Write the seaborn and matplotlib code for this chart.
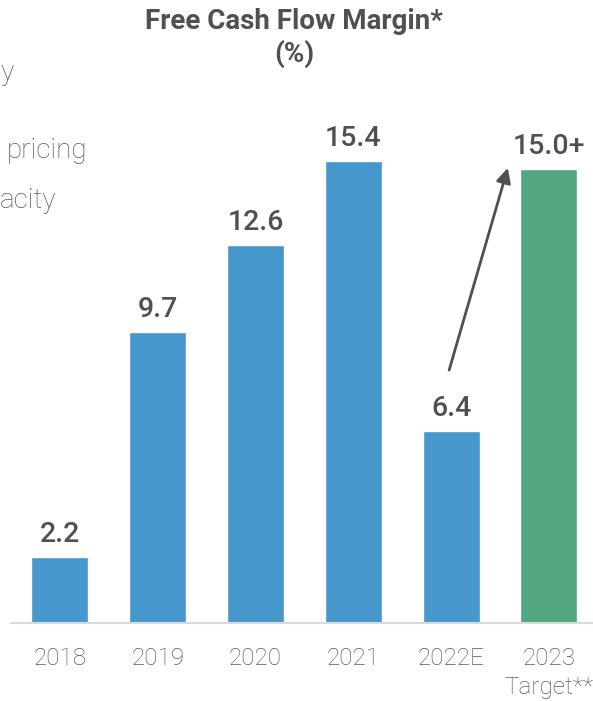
import matplotlib
matplotlib.use("Agg")
import matplotlib.pyplot as plt
import seaborn as sns
import pandas as pd

# ---- data ----
years = ["2018", "2019", "2020", "2021", "2022E", "2023\nTarget**"]
margins = [2.2, 9.7, 12.6, 15.4, 6.4, 15.15]
value_labels = ["2.2", "9.7", "12.6", "15.4", "6.4", "15.0+"]
bar_colors = ["#4697CB", "#4697CB", "#4697CB", "#4697CB", "#4697CB", "#52A682"]
title = "Free Cash Flow Margin*\n(%)"
side_fragments = ["y", "pricing", "acity"]

sns.set_theme(style="white")
plt.rcParams["font.family"] = ["Roboto", "DejaVu Sans"]

W, H = 593, 701
fig = plt.figure(figsize=(W / 100, H / 100), dpi=100)
ax = fig.add_axes([11 / W, 78 / H, 586.8 / W, 523 / H])

df = pd.DataFrame({"year": years, "margin": margins})
sns.barplot(data=df, x="year", y="margin", hue="year", palette=bar_colors,
            legend=False, width=0.583, ax=ax, saturation=1)

ax.set_xlim(-0.5, 5.5)
ax.set_ylim(0, 523 / 30.0)
ax.set_xlabel("")
ax.set_ylabel("")
ax.set_yticks([])
for s in ["left", "right", "top"]:
    ax.spines[s].set_visible(False)
ax.spines["bottom"].set_color("#D9D9D9")
ax.spines["bottom"].set_linewidth(1.5)
ax.tick_params(axis="x", length=0, pad=17, labelsize=17.5, labelcolor="#595959")
for lbl in ax.get_xticklabels():
    lbl.set_fontweight("light")
    lbl.set_linespacing(1.35)

for i, (v, t) in enumerate(zip(margins, value_labels)):
    ax.annotate(t, (i, v), xytext=(0, 10.5), textcoords="offset points",
                ha="center", va="baseline", fontsize=20.5, fontweight="medium",
                color="#505050")

# arrow from 2022E toward 2023 target
ax.annotate("", xy=(4.58, 15.17), xytext=(3.98, 8.43),
            arrowprops=dict(arrowstyle="-|>", color="#505050", lw=2,
                            mutation_scale=22, shrinkA=0, shrinkB=0))

fig.text(294 / W, 1 - 8 / H, title, ha="center", va="top", fontsize=20,
         fontweight="bold", color="#505050", linespacing=1.22)

# cut-off text from neighbouring panel
frag_pos = [(0, 72), (7, 150), (0, 200)]
for txt, (x, y) in zip(side_fragments, frag_pos):
    fig.text(x / W, 1 - y / H, txt, ha="left", va="center", fontsize=20,
             fontweight="light", color="#595959")

fig.savefig("out.png", dpi=100)
